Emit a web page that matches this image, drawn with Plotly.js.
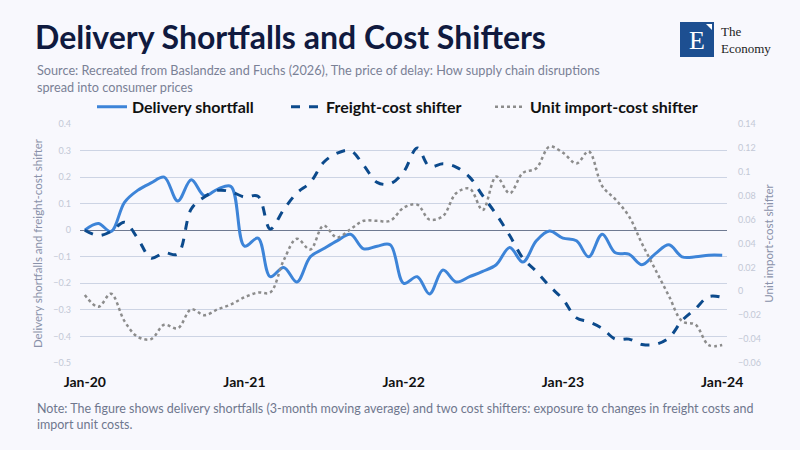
<!DOCTYPE html>
<html>
<head>
<meta charset="utf-8">
<script src="https://cdn.plot.ly/plotly-3.0.1.min.js"></script>
<style>
  html, body { margin: 0; padding: 0; background: #f8f8fd; }
  #chart { width: 800px; height: 450px; }
</style>
</head>
<body>
<div id="chart"></div>
<script>
// ---- Data (monthly, Jan-2020 .. Jan-2024) ----
const startYear = 2020;
const nMonths = 49;
const months = [];
for (let i = 0; i < nMonths; i++) {
  const y = startYear + Math.floor(i / 12);
  const m = (i % 12) + 1;
  months.push(y + '-' + String(m).padStart(2, '0') + '-01');
}

const deliveryShortfall = [
  0.00, 0.025, -0.005, 0.105, 0.15, 0.178, 0.20, 0.11, 0.19, 0.13, 0.155, 0.165,
  -0.06, -0.03, -0.175, -0.14, -0.195, -0.10, -0.07, -0.04, -0.015, -0.07, -0.06, -0.055,
  -0.20, -0.175, -0.24, -0.15, -0.195, -0.175, -0.155, -0.13, -0.065, -0.12, -0.04, -0.003,
  -0.03, -0.04, -0.10, -0.015, -0.085, -0.09, -0.13, -0.088, -0.055, -0.10, -0.10, -0.094,
  -0.094
];

const freightCostShifter = [
  0.00, -0.02, -0.005, 0.03, -0.03, -0.105, -0.085, -0.09, 0.08, 0.125, 0.15, 0.145,
  0.125, 0.128, 0.005, 0.078, 0.14, 0.18, 0.255, 0.29, 0.30, 0.245, 0.18, 0.175,
  0.22, 0.31, 0.24, 0.25, 0.238, 0.20, 0.13, 0.06, -0.02, -0.105, -0.155, -0.21,
  -0.26, -0.33, -0.345, -0.37, -0.41, -0.41, -0.43, -0.43, -0.405, -0.34, -0.295, -0.25,
  -0.253
];

const unitImportCostShifter = [
  -0.003, -0.013, -0.002, -0.025, -0.038, -0.040, -0.028, -0.031, -0.015, -0.020, -0.015, -0.011,
  -0.005, -0.001, -0.001, 0.026, 0.044, 0.035, 0.055, 0.045, 0.052, 0.059, 0.059, 0.059,
  0.070, 0.0725, 0.060, 0.063, 0.082, 0.086, 0.068, 0.096, 0.082, 0.099, 0.103, 0.121,
  0.116, 0.107, 0.117, 0.088, 0.077, 0.063, 0.040, 0.018, -0.004, -0.025, -0.028, -0.045,
  -0.045
];

const xTickVals = ['2020-01-01', '2021-01-01', '2022-01-01', '2023-01-01', '2024-01-01'];
const xTickText = ['Jan-20', 'Jan-21', 'Jan-22', 'Jan-23', 'Jan-24'];

const seriesNames = ['Delivery shortfall', 'Freight-cost shifter', 'Unit import-cost shifter'];

// ---- Styling ----
const FONT = 'Lato, "Noto Sans", sans-serif';
const BG = '#f8f8fd';

const traces = [
  {
    x: months, y: deliveryShortfall, name: seriesNames[0], type: 'scatter', mode: 'lines',
    legendwidth: 149,
    line: { color: '#3d84d8', width: 3, shape: 'spline', smoothing: 1 }
  },
  {
    x: months, y: freightCostShifter, name: seriesNames[1], type: 'scatter', mode: 'lines',
    legendwidth: 159,
    line: { color: '#0c4a8c', width: 3, dash: 'dash', shape: 'spline', smoothing: 1 }
  },
  {
    x: months, y: unitImportCostShifter, name: seriesNames[2], type: 'scatter', mode: 'lines',
    yaxis: 'y2', legendwidth: 185,
    line: { color: '#8c8c8c', width: 2.5, dash: 'dot', shape: 'spline', smoothing: 1 }
  }
];

const layout = {
  width: 800, height: 450,
  paper_bgcolor: BG, plot_bgcolor: BG,
  font: { family: FONT, color: '#222' },
  margin: { l: 80, r: 73, t: 124, b: 87 },
  showlegend: true,
  title: {
    text: 'Delivery Shortfalls and Cost Shifters',
    font: { family: FONT, size: 32, color: '#101a3f', weight: 'bold' },
    x: 35 / 800, xref: 'container', xanchor: 'left',
    y: 1 - 38 / 450, yref: 'container', yanchor: 'middle'
  },
  legend: {
    orientation: 'h', x: (92 - 80) / 647, xanchor: 'left', y: 1.072, yanchor: 'middle',
    font: { family: FONT, size: 16, color: '#111', weight: 'bold' },
    bgcolor: 'rgba(0,0,0,0)', tracegroupgap: 0
  },
  xaxis: {
    type: 'date',
    range: ['2019-12-21', '2024-01-12'],
    tickmode: 'array', tickvals: xTickVals, ticktext: xTickText,
    tickfont: { family: FONT, size: 14, color: '#111', weight: 'bold' },
    showgrid: false, zeroline: false, showline: false, ticks: '',
    ticklabelstandoff: 9
  },
  yaxis: {
    range: [-0.5, 0.4], dtick: 0.1, tick0: 0,
    showgrid: true, gridcolor: '#cdd4e4', gridwidth: 1,
    zeroline: true, zerolinecolor: '#6f7a92', zerolinewidth: 1.2,
    showline: false, ticks: '',
    tickfont: { family: FONT, size: 9, color: '#c3c8d6' },
    ticklabelstandoff: 8,
    title: { text: 'Delivery shortfalls and freight-cost shifter',
             font: { family: FONT, size: 11.5, color: '#8a92aa' }, standoff: 8 }
  },
  yaxis2: {
    range: [-0.06, 0.14], dtick: 0.02, tick0: 0,
    overlaying: 'y', side: 'right',
    showgrid: false, zeroline: false, showline: false, ticks: '',
    tickfont: { family: FONT, size: 9, color: '#c3c8d6' },
    ticklabelstandoff: 10,
    title: { text: 'Unit import-cost shifter',
             font: { family: FONT, size: 11.5, color: '#8a92aa' }, standoff: 4 }
  },
  shapes: [
    { type: 'rect', xref: 'paper', yref: 'paper',
      x0: (680 - 80) / 647, x1: (714 - 80) / 647,
      y0: (363 - 57) / 239, y1: (363 - 22) / 239,
      fillcolor: '#1d4f91', line: { width: 0 } },
    { type: 'path', xref: 'paper', yref: 'paper',
      path: 'M ' + ((706 - 80) / 647) + ',' + ((363 - 24) / 239) +
            ' L ' + ((712 - 80) / 647) + ',' + ((363 - 24) / 239) +
            ' L ' + ((712 - 80) / 647) + ',' + ((363 - 30) / 239) + ' Z',
      fillcolor: '#ffffff', line: { width: 0 } }
  ],
  annotations: [
    { xref: 'paper', yref: 'paper', x: (35 - 80) / 647, y: (363 - 78) / 239,
      xanchor: 'left', yanchor: 'middle', align: 'left', showarrow: false,
      text: 'Source: Recreated from Baslandze and Fuchs (2026), The price of delay: How supply chain disruptions<br>spread into consumer prices',
      font: { family: FONT, size: 12.7, color: '#7a8196' } },
    { xref: 'paper', yref: 'paper', x: (35 - 80) / 647, y: (363 - 416) / 239,
      xanchor: 'left', yanchor: 'middle', align: 'left', showarrow: false,
      text: 'Note: The figure shows delivery shortfalls (3-month moving average) and two cost shifters: exposure to changes in freight costs and<br>import unit costs.',
      font: { family: FONT, size: 12.5, color: '#6f778e' } },
    { xref: 'paper', yref: 'paper', x: (697 - 80) / 647, y: (363 - 40) / 239,
      xanchor: 'center', yanchor: 'middle', showarrow: false,
      text: 'E',
      font: { family: '"Liberation Serif", "DejaVu Serif", serif', size: 26, color: '#ffffff' } },
    { xref: 'paper', yref: 'paper', x: (719 - 80) / 647, y: (363 - 40) / 239,
      xanchor: 'left', yanchor: 'middle', align: 'left', showarrow: false,
      text: 'The<br>Economy',
      font: { family: '"Liberation Serif", "DejaVu Serif", serif', size: 13, color: '#222' } }
  ]
};

Plotly.newPlot('chart', traces, layout, { displayModeBar: false, staticPlot: true });
</script>
</body>
</html>
